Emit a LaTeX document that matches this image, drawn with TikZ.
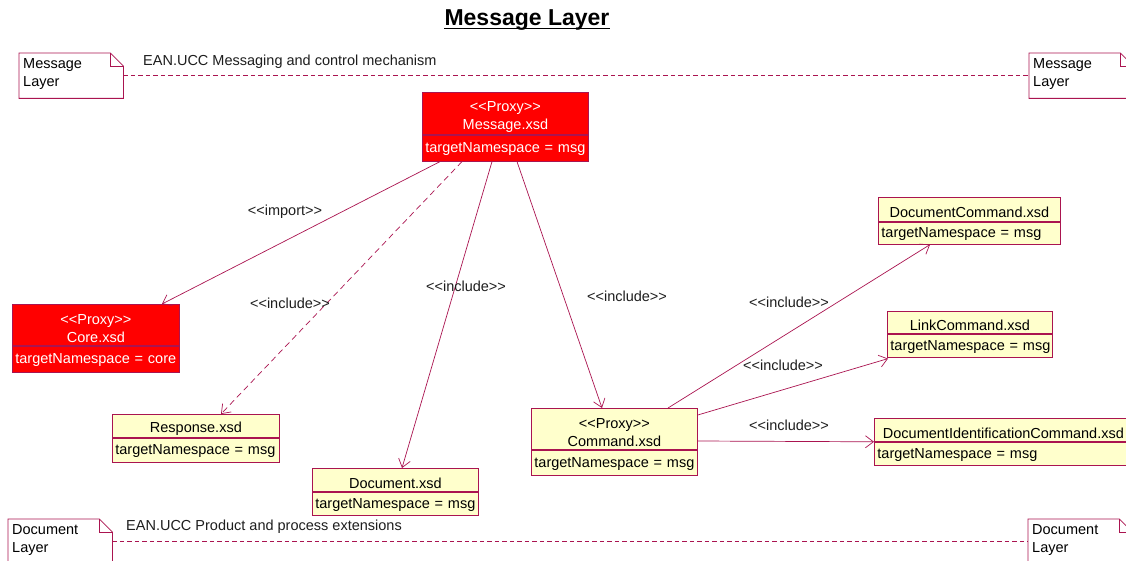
\documentclass[tikz,border=0pt]{standalone}
\usepackage{fontspec}
\setmainfont{Liberation Sans}[Ligatures=TeXOff]
\usetikzlibrary{arrows.meta,calc}
\definecolor{bd}{RGB}{170,20,80}
\definecolor{lbl}{RGB}{30,30,30}
\definecolor{clsyellow}{RGB}{255,255,204}
\newcommand\fsz{\fontsize{14.5}{18}\selectfont}
\begin{document}
\begin{tikzpicture}[x=1pt,y=-1pt,
  hdr/.style={draw=bd, line width=0.8pt, anchor=north west, inner xsep=3pt, inner ysep=0pt, font=\fsz, align=center, execute at begin node={\rule{0pt}{16.5pt}}},
  attr/.style={draw=bd, line width=0.8pt, anchor=north west, inner xsep=3pt, inner ysep=0pt, font=\fsz, align=left, execute at begin node={\rule{0pt}{12pt}}},
  redbox/.style={fill=red, text=white},
  yelbox/.style={fill=clsyellow, text=black},
  dep/.style={draw=bd, line width=0.7pt, -{Straight Barb[length=8pt,width=12pt]}},
  depdash/.style={dep, dash pattern=on 6pt off 4pt},
  lab/.style={font=\fsz, text=lbl, inner sep=0pt},
  notebox/.style={anchor=north west, minimum width=104pt, minimum height=45pt, inner xsep=4pt, inner ysep=0pt, text width=96pt, align=left, font=\fsz, text=black, execute at end node={\rule[-7pt]{0pt}{7pt}}},
  noteline/.style={draw=bd, line width=0.8pt},
  sepline/.style={draw=bd, line width=1pt, dash pattern=on 4.5pt off 3pt}
]
\fill[white] (0,0) rectangle (1126,561);
\useasboundingbox (0,0) rectangle (1126,561);

% title
\node[font=\fontsize{23}{26}\selectfont\bfseries, inner sep=0pt, anchor=base] (title) at (527,26) {Message Layer};
\draw[line width=1.6pt] ([yshift=-2.5pt]title.base west) -- ([yshift=-2.5pt]title.base east);

% notes
\node[notebox] (nML1) at (19,53) {Message\\Layer};
\node[notebox] (nML2) at (1029,53) {Message\\Layer};
\node[notebox] (nDL1) at (8,519) {Document\\Layer};
\node[notebox] (nDL2) at (1028,519) {Document\\Layer};
\foreach \n in {nML1,nML2,nDL1,nDL2} {
  \draw[noteline] (\n.north west) -- ($(\n.north east)+(-13,0)$) -- ($(\n.north east)+(0,13)$) -- (\n.south east) -- (\n.south west) -- cycle;
  \draw[noteline] ($(\n.north east)+(-13,0)$) -- ($(\n.north east)+(-13,13)$) -- ($(\n.north east)+(0,13)$);
}
\draw[sepline] (nML1.east) -- (nML2.west);
\draw[sepline] (nDL1.east) -- (nDL2.west);
\node[lab, anchor=west] (lblML) at (143,62) {EAN.UCC Messaging and control mechanism};
\node[lab, anchor=west] (lblDL) at (126,527) {EAN.UCC Product and process extensions};

% classes
\node[hdr, redbox, text width=160pt, minimum height=42pt] (msgH) at (422,92) {<<Proxy>>\\Message.xsd};
\node[attr, redbox, text width=160pt, minimum height=26pt] (msgA) at (msgH.south west) {targetNamespace = msg};

\node[hdr, redbox, text width=161pt, minimum height=41pt] (coreH) at (12,304) {<<Proxy>>\\Core.xsd};
\node[attr, redbox, text width=161pt, minimum height=26pt] (coreA) at (coreH.south west) {targetNamespace = core};

\node[hdr, yelbox, text width=161pt, minimum height=23pt] (respH) at (112,414) {Response.xsd};
\node[attr, yelbox, text width=161pt, minimum height=24pt] (respA) at (respH.south west) {targetNamespace = msg};

\node[hdr, yelbox, text width=160pt, minimum height=23pt] (docH) at (312,468) {Document.xsd};
\node[attr, yelbox, text width=160pt, minimum height=23pt] (docA) at (docH.south west) {targetNamespace = msg};

\node[hdr, yelbox, text width=160pt, minimum height=41pt] (cmdH) at (531,408) {<<Proxy>>\\Command.xsd};
\node[attr, yelbox, text width=160pt, minimum height=25pt] (cmdA) at (cmdH.south west) {targetNamespace = msg};

\node[hdr, yelbox, text width=176pt, minimum height=24pt] (dcmdH) at (878,197) {DocumentCommand.xsd};
\node[attr, yelbox, text width=176pt, minimum height=22pt] (dcmdA) at (dcmdH.south west) {targetNamespace = msg};

\node[hdr, yelbox, text width=159pt, minimum height=22pt] (linkH) at (887,311) {LinkCommand.xsd};
\node[attr, yelbox, text width=159pt, minimum height=23pt] (linkA) at (linkH.south west) {\mbox{targetNamespace = msg}};

\node[hdr, yelbox, text width=252pt, minimum height=23pt] (didH) at (874,418) {DocumentIdentificationCommand.xsd};
\node[attr, yelbox, text width=252pt, minimum height=23pt] (didA) at (didH.south west) {targetNamespace = msg};

% connectors
\draw[dep] ($(msgA.south west)+(18,0)$) -- ($(coreH.north west)+(150,0)$);
\draw[depdash] ($(msgA.south west)+(40,0)$) -- ($(respH.north west)+(109,0)$);
\draw[dep] ($(msgA.south west)+(70,0)$) -- ($(docH.north west)+(90,0)$);
\draw[dep] ($(msgA.south west)+(95,0)$) -- ($(cmdH.north west)+(71,0)$);
\draw[dep] ($(cmdH.north west)+(137,0)$) -- ($(dcmdA.south west)+(52,0)$);
\draw[dep] ($(cmdH.north east)+(0,7)$) -- ($(linkA.south west)+(1,1)$);
\draw[dep] ($(cmdH.north east)+(0,33)$) -- (didA.north west);

% labels
\node[lab] (l1) at (285,212) {<<import>>};
\node[lab] (l2) at (290,303) {<<include>>};
\node[lab] (l3) at (466,286) {<<include>>};
\node[lab] (l4) at (627,296) {<<include>>};
\node[lab] (l5) at (789,302) {<<include>>};
\node[lab] (l6) at (783,365) {<<include>>};
\node[lab] (l7) at (789,425) {<<include>>};
\end{tikzpicture}
\end{document}
